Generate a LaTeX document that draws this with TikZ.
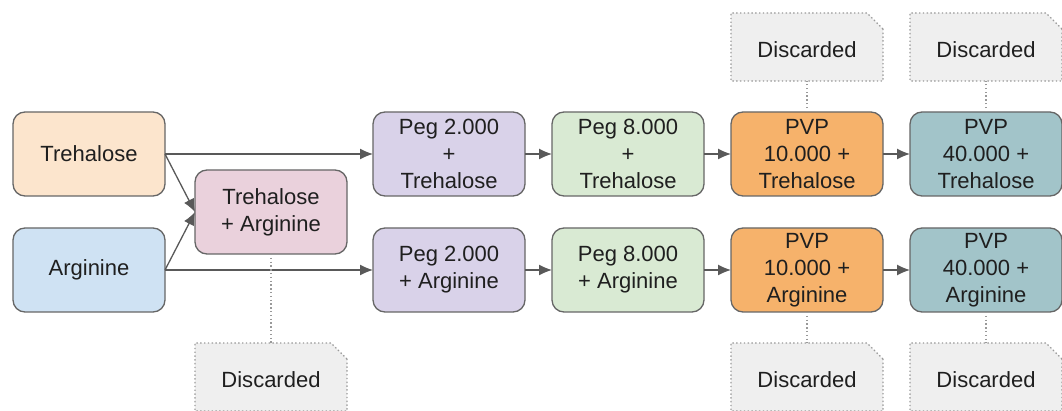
\documentclass[tikz,border=0pt]{standalone}
\usepackage{fontspec}
\setmainfont{Liberation Sans}
\usetikzlibrary{arrows.meta, positioning, shapes.misc, calc}
\definecolor{edgegray}{HTML}{666666}
\definecolor{dotgray}{HTML}{999999}
\definecolor{arrowgray}{HTML}{595959}
\definecolor{textdark}{HTML}{1F1F1F}
\definecolor{treFill}{HTML}{FCE5CD}
\definecolor{argFill}{HTML}{CFE2F3}
\definecolor{mixFill}{HTML}{EAD1DC}
\definecolor{pegLowFill}{HTML}{D9D2E9}
\definecolor{pegHighFill}{HTML}{D9EAD3}
\definecolor{pvpLowFill}{HTML}{F6B26B}
\definecolor{pvpHighFill}{HTML}{A2C4C9}
\definecolor{discardFill}{HTML}{EFEFEF}
\tikzset{
    block/.style={draw=edgegray, rectangle, rounded corners=12pt, line width=1.3pt, minimum height=84pt, minimum width=152pt, inner sep=0pt, outer sep=0pt, align=center, text=textdark, font=\fontsize{22}{27}\selectfont},
    discard/.style={draw=dotgray, chamfered rectangle, chamfered rectangle corners=north east, chamfered rectangle xsep=7pt, chamfered rectangle ysep=9pt, fill=discardFill, line width=1.3pt, dash pattern=on 1.4pt off 2.4pt, minimum height=68pt, minimum width=152pt, inner sep=0pt, outer sep=0pt, text height=21.5pt, text depth=0pt, align=center, text=textdark, font=\fontsize{22}{27}\selectfont},
    arrow/.style={draw=arrowgray, -{Latex[length=13pt, width=11pt]}, line width=1.3pt},
    dropline/.style={draw=dotgray, line width=1.3pt, dash pattern=on 1.4pt off 2.4pt}
}

\begin{document}
\begin{tikzpicture}[node distance=27pt and 27pt]
    \useasboundingbox (0,0) rectangle (1062pt,-411pt);

    % sources and their mix
    \node [block, fill=treFill] (tre) at (89pt,-154pt) {Trehalose};
    \node [block, fill=argFill, below=32pt of tre] (arg) {Arginine};
    \coordinate (srcmid) at ($(tre.east)!0.5!(arg.east)$);
    \node [block, fill=mixFill, right=30pt of srcmid] (mix) {Trehalose\\+ Arginine};

    % trehalose row
    \node [block, fill=pegLowFill, anchor=west] (p2t) at ([xshift=26pt]mix.east |- tre) {Peg 2.000\\+\\Trehalose};
    \node [block, fill=pegHighFill, right=of p2t] (p8t) {Peg 8.000\\+\\Trehalose};
    \node [block, fill=pvpLowFill, right=of p8t] (v10t) {PVP\\10.000 +\\Trehalose};
    \node [block, fill=pvpHighFill, right=of v10t] (v40t) {PVP\\40.000 +\\Trehalose};

    % arginine row
    \node [block, fill=pegLowFill, anchor=west] (p2a) at ([xshift=26pt]mix.east |- arg) {Peg 2.000\\+ Arginine};
    \node [block, fill=pegHighFill, right=of p2a] (p8a) {Peg 8.000\\+ Arginine};
    \node [block, fill=pvpLowFill, right=of p8a] (v10a) {PVP\\10.000 +\\Arginine};
    \node [block, fill=pvpHighFill, right=of v10a] (v40a) {PVP\\40.000 +\\Arginine};

    % discarded fractions
    \node [discard, above=31pt of v10t] (d10t) {Discarded};
    \node [discard, above=31pt of v40t] (d40t) {Discarded};
    \node [discard, below=31pt of v10a] (d10a) {Discarded};
    \node [discard, below=31pt of v40a] (d40a) {Discarded};
    \node [discard] (dmix) at (mix |- d10a) {Discarded};

    \draw [arrow] (tre) -- (p2t);
    \draw [arrow] (arg) -- (p2a);
    \draw [arrow] (tre.east) -- (mix.west);
    \draw [arrow] (arg.east) -- (mix.west);
    \draw [arrow] (p2t) -- (p8t);
    \draw [arrow] (p8t) -- (v10t);
    \draw [arrow] (v10t) -- (v40t);
    \draw [arrow] (p2a) -- (p8a);
    \draw [arrow] (p8a) -- (v10a);
    \draw [arrow] (v10a) -- (v40a);

    \draw [dropline] (v10t) -- (d10t);
    \draw [dropline] (v40t) -- (d40t);
    \draw [dropline] (v10a) -- (d10a);
    \draw [dropline] (v40a) -- (d40a);
    \draw [dropline] (mix) -- (dmix);
\end{tikzpicture}
\end{document}
